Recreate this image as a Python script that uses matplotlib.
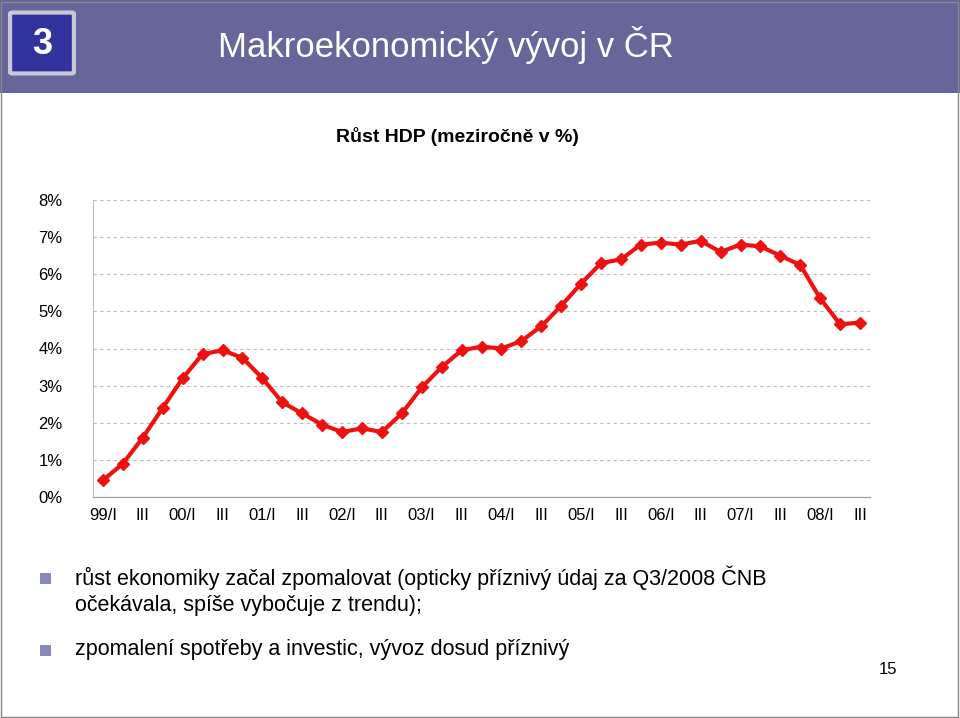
import matplotlib
matplotlib.use("Agg")
import matplotlib.pyplot as plt
from matplotlib.patches import Rectangle, FancyBboxPatch

years = ["99", "00", "01", "02", "03", "04", "05", "06", "07", "08"]
quarters = ["I", "II", "III", "IV"]
gdp = [0.45, 0.9, 1.6, 2.4, 3.2, 3.85, 3.95, 3.75, 3.2, 2.55, 2.25, 1.95, 1.75,
       1.85, 1.75, 2.25, 2.95, 3.5, 3.95, 4.05, 4.0, 4.2, 4.6, 5.15, 5.75, 6.3,
       6.4, 6.8, 6.85, 6.8, 6.9, 6.6, 6.8, 6.75, 6.5, 6.25, 5.35, 4.65, 4.7]
yticks = [0, 1, 2, 3, 4, 5, 6, 7, 8]

labels = []
for y in years:
    for q in quarters:
        if q == "I":
            labels.append(f"{y}/I")
        elif q == "III":
            labels.append("III")
        else:
            labels.append("")
labels = labels[:len(gdp)]

W, H = 960, 718
fig = plt.figure(figsize=(W/100, H/100), dpi=100)
fig.patch.set_facecolor("white")

# header
fig.patches.append(Rectangle((0, 1-93/H), 1, 93/H, transform=fig.transFigure,
                             facecolor="#66669a", edgecolor="none"))
fig.patches.append(FancyBboxPatch((12/W, 1-72/H), 60/W, 58/H, boxstyle="round,pad=0.002",
                                  transform=fig.transFigure, facecolor="#3333a0",
                                  edgecolor="#c8c8d8", linewidth=3))
fig.text(42/W, 1-45/H, "3", color="white", fontsize=26, fontweight="bold",
         ha="center", va="center", family="Liberation Sans")
fig.text(218/W, 1-45/H, "Makroekonomický vývoj v ČR", color="white", fontsize=25,
         ha="left", va="center", family="Liberation Sans")
fig.patches.append(Rectangle((1/W, 1/H), 1-3/W, 1-3/H, transform=fig.transFigure,
                             facecolor="none", edgecolor="#888888", linewidth=1))

ax = fig.add_axes([93/W, 1-497/H, (870-93)/W, (497-200)/H])
x = list(range(len(gdp)))
ax.plot(x, gdp, color="#ee1111", linewidth=3, marker="D", markersize=6,
        markerfacecolor="#ee1111", markeredgecolor="#ee1111")
ax.set_xlim(-0.5, len(gdp) - 0.5)
ax.set_ylim(0, 8)
ax.set_yticks(yticks)
ax.set_yticklabels([f"{v}%" for v in yticks], fontsize=12, family="Liberation Sans")
ax.set_xticks(x)
ax.set_xticklabels(labels, fontsize=12, family="Liberation Sans")
ax.tick_params(axis="x", length=0, pad=8)
ax.tick_params(axis="y", length=0, pad=22)
ax.grid(axis="y", color="#bbbbbb", linestyle=(0, (3, 3)), linewidth=0.8)
for s in ["top", "right"]:
    ax.spines[s].set_visible(False)
ax.spines["left"].set_color("#bbbbbb")
ax.spines["bottom"].set_color("#999999")

fig.text(457/W, 1-137/H, "Růst HDP (meziročně v %)", fontsize=14, fontweight="bold",
         ha="center", va="center", family="Liberation Sans")

fn = "Liberation Sans"
for yy in [578, 650]:
    fig.patches.append(Rectangle((40/W, 1-(yy+6)/H), 11/W, 11/H, transform=fig.transFigure,
                                 facecolor="#8888bb", edgecolor="none"))
fig.text(75/W, 1-578/H, "růst ekonomiky začal zpomalovat (opticky příznivý údaj za Q3/2008 ČNB",
         fontsize=15.5, va="center", family=fn)
fig.text(75/W, 1-606/H, "očekávala, spíše vybočuje z trendu);", fontsize=15.5, va="center", family=fn)
fig.text(75/W, 1-650/H, "zpomalení spotřeby a investic, vývoz dosud příznivý",
         fontsize=15.5, va="center", family=fn)
fig.text(888/W, 1-669/H, "15", fontsize=12, ha="center", va="center", family=fn)

fig.savefig("out.png", dpi=100)
